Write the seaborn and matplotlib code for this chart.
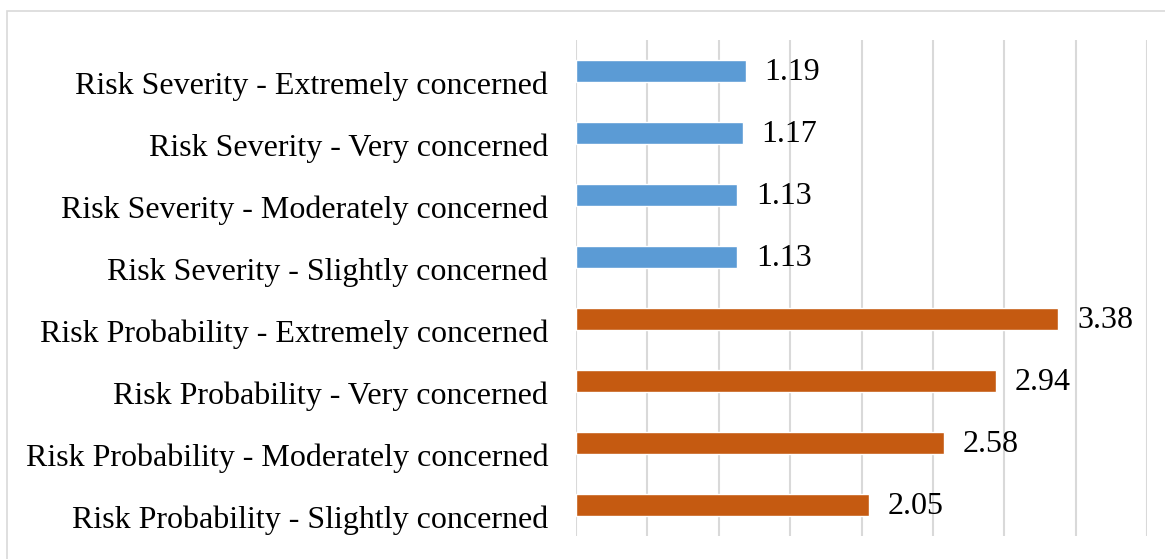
import matplotlib.pyplot as plt
import matplotlib.patches as mpatches
import matplotlib.transforms as mtransforms
import seaborn as sns
import pandas as pd
import numpy as np

sns.set_theme(style="white")
plt.rcParams['font.family'] = ['Liberation Serif', 'DejaVu Serif']

categories = [
    "Risk Severity - Extremely concerned",
    "Risk Severity - Very concerned",
    "Risk Severity - Moderately concerned",
    "Risk Severity - Slightly concerned",
    "Risk Probability - Extremely concerned",
    "Risk Probability - Very concerned",
    "Risk Probability - Moderately concerned",
    "Risk Probability - Slightly concerned",
]
values = [1.19, 1.17, 1.13, 1.13, 3.38, 2.94, 2.58, 2.05]
groups = ["Severity"] * 4 + ["Probability"] * 4
colors = {"Severity": "#5B9BD5", "Probability": "#C55A11"}

df = pd.DataFrame({"category": categories, "value": values, "group": groups})

fig = plt.figure(figsize=(11.65, 5.59), dpi=100)
ax = fig.add_axes([576 / 1165, 1 - 536 / 559, (1147 - 576) / 1165, (536 - 40) / 559])

sns.barplot(data=df, x="value", y="category", hue="group", palette=colors,
            order=categories, dodge=False, width=0.36, legend=False, ax=ax,
            saturation=1)

ax.set_xlim(0, 4)
ax.set_xticks(np.arange(0, 4.01, 0.5))
ax.set_xticklabels([])
ax.xaxis.grid(True, color="#D9D9D9", linewidth=1.5)
ax.set_axisbelow(True)
for s in ax.spines.values():
    s.set_visible(False)
ax.tick_params(axis="both", length=0)
ax.tick_params(axis="y", labelsize=23, pad=20, labelcolor="black")
ax.set_xlabel("")
ax.set_ylabel("")

# category labels sit a bit below the bar centres in the original
shift = mtransforms.ScaledTranslation(0, -12 / 100, fig.dpi_scale_trans)
for lbl in ax.get_yticklabels():
    lbl.set_transform(lbl.get_transform() + shift)

for i, v in enumerate(values):
    ax.text(v + 0.13, i + 0.03, f"{v:.2f}", va="center", ha="left", fontsize=23, color="black")

# outer chart border
fig.patches.append(mpatches.Rectangle((7 / 1165, -0.01), 1.05, 1 - 11 / 559 + 0.01,
                                      transform=fig.transFigure, fill=False,
                                      edgecolor="#D9D9D9", linewidth=1.2))

fig.savefig("out.png", dpi=100)
